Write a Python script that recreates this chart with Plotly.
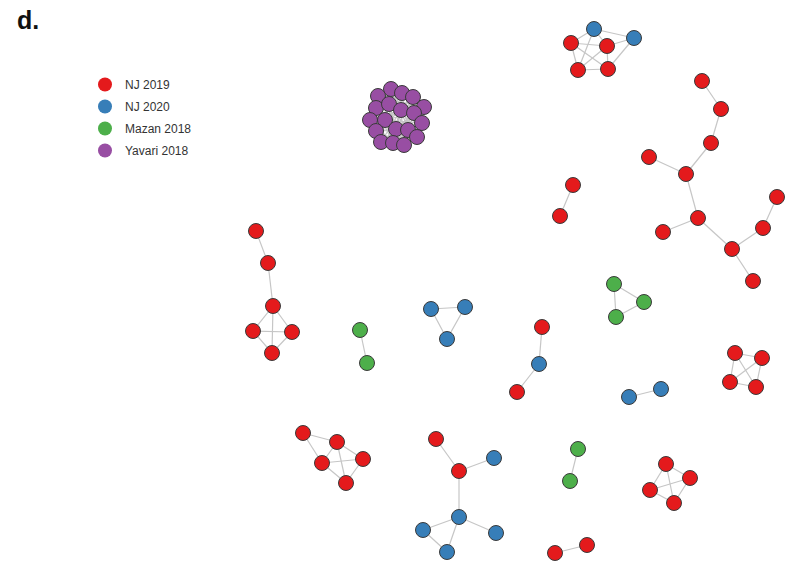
import itertools
import plotly.graph_objects as go

# Series shown in the legend, in order, with their colours
groups = ["NJ 2019", "NJ 2020", "Mazan 2018", "Yavari 2018"]
colors = {"NJ 2019": "#E41A1C", "NJ 2020": "#377EB8",
          "Mazan 2018": "#4DAF4A", "Yavari 2018": "#984EA3"}

# Network layout: node coordinates (layout units) and series code
# r = NJ 2019, b = NJ 2020, g = Mazan 2018, p = Yavari 2018
node_x = [594, 634, 571, 607, 578, 608,
          702, 721, 711, 649, 686, 698, 663, 732, 763, 777, 753,
          573, 560,
          256, 268, 273, 253, 292, 272,
          360, 367,
          431, 465, 447,
          542, 539, 517,
          614, 644, 616,
          735, 762, 730, 756,
          629, 661,
          303, 337, 322, 363, 346,
          436, 459, 494, 459, 423, 447, 496,
          578, 570,
          555, 587,
          666, 690, 650, 674]
node_y = [29, 38, 43, 46, 70, 69,
          81, 109, 143, 157, 174, 218, 232, 249, 228, 197, 281,
          185, 216,
          231, 263, 306, 331, 332, 353,
          330, 363,
          309, 307, 339,
          327, 364, 392,
          284, 302, 317,
          353, 358, 382, 387,
          397, 389,
          433, 442, 463, 459, 483,
          439, 471, 458, 517, 530, 552, 533,
          449, 481,
          553, 545,
          464, 478, 490, 503]
node_code = list("bbrrrr" "rrrrrrrrrrr" "rr" "rrrrrr" "gg" "bbb" "rbr"
                 "ggg" "rrrr" "bb" "rrrrr" "rrbbbbb" "gg" "rr" "rrrr")

# Dense Yavari 2018 cluster
yavari_x = [391, 402, 413, 378, 424, 376, 389, 401, 414, 370,
            385, 422, 376, 396, 408, 381, 393, 404, 417]
yavari_y = [89, 93, 97, 96, 107, 108, 104, 110, 113, 120,
            120, 123, 131, 129, 130, 142, 143, 145, 137]

# Edge list (node index pairs)
edges = [(0, 1), (0, 2), (0, 3), (0, 4), (2, 3), (2, 4), (2, 5), (3, 4),
         (3, 5), (4, 5), (1, 3), (1, 5),
         (6, 7), (7, 8), (8, 10), (9, 10), (10, 11), (11, 12), (11, 13),
         (13, 14), (14, 15), (13, 16),
         (17, 18),
         (19, 20), (20, 21), (21, 22), (21, 23), (21, 24), (22, 23),
         (22, 24), (23, 24),
         (25, 26),
         (27, 28), (28, 29), (27, 29),
         (30, 31), (31, 32),
         (33, 34), (34, 35), (33, 35),
         (36, 37), (36, 38), (36, 39), (37, 38), (37, 39), (38, 39),
         (40, 41),
         (42, 43), (42, 44), (43, 44), (43, 45), (43, 46), (44, 45),
         (44, 46), (45, 46),
         (47, 48), (48, 49), (48, 50), (50, 51), (51, 52), (50, 52), (50, 53),
         (54, 55),
         (56, 57),
         (58, 59), (58, 60), (58, 61), (59, 60), (59, 61), (60, 61)]

code_to_group = {"r": "NJ 2019", "b": "NJ 2020", "g": "Mazan 2018", "p": "Yavari 2018"}

xs = node_x + yavari_x
ys = node_y + yavari_y
codes = node_code + ["p"] * len(yavari_x)

# Yavari nodes are all linked to their close neighbours
base = len(node_x)
for i, j in itertools.combinations(range(len(yavari_x)), 2):
    dx = yavari_x[i] - yavari_x[j]
    dy = yavari_y[i] - yavari_y[j]
    if dx * dx + dy * dy < 40 ** 2:
        edges.append((base + i, base + j))

ex, ey = [], []
for a, b in edges:
    ex += [xs[a], xs[b], None]
    ey += [ys[a], ys[b], None]

fig = go.Figure()
fig.add_trace(go.Scatter(x=ex, y=ey, mode="lines", hoverinfo="skip",
                         line=dict(color="#c6c6c6", width=1.2), showlegend=False))

for g in groups:
    idx = [k for k, c in enumerate(codes) if code_to_group[c] == g]
    fig.add_trace(go.Scatter(
        x=[xs[k] for k in idx], y=[ys[k] for k in idx], mode="markers",
        marker=dict(size=15, color=colors[g], line=dict(color="#3a3a3a", width=1)),
        name=g, showlegend=False))

# Legend entries (plain dots)
for g in groups:
    fig.add_trace(go.Scatter(x=[None], y=[None], mode="markers", name=g,
                             legendgroup=g,
                             marker=dict(size=14, color=colors[g])))

fig.update_layout(
    width=793, height=564,
    margin=dict(l=0, r=0, t=0, b=0),
    paper_bgcolor="white", plot_bgcolor="white",
    xaxis=dict(range=[0, 793], visible=False, fixedrange=True),
    yaxis=dict(range=[564, 0], visible=False, fixedrange=True),
    title=dict(text="<b>d.</b>", x=17 / 793, xanchor="left",
               y=1 - 11 / 564, yanchor="top",
               font=dict(family="Liberation Sans", size=25, color="#111")),
    legend=dict(x=85 / 793, xanchor="left", y=1 - 70 / 564, yanchor="top",
                font=dict(family="Liberation Sans", size=12, color="#333"),
                tracegroupgap=3, bgcolor="rgba(0,0,0,0)"),
    showlegend=True,
)

fig.write_html("out.html")
